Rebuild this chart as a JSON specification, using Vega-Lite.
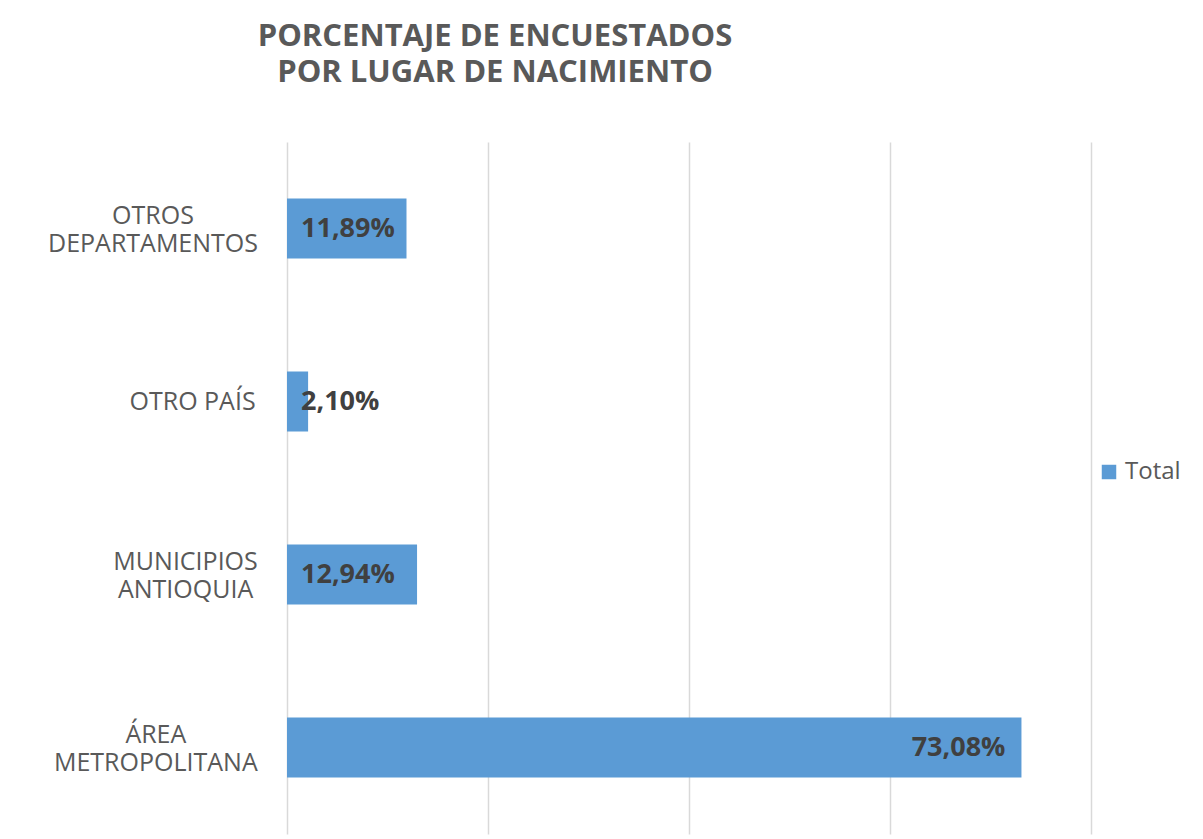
{
  "$schema": "https://vega.github.io/schema/vega-lite/v6.json",
  "autosize": "none",
  "width": 804,
  "height": 692,
  "padding": {"left": 287, "top": 142, "right": 112, "bottom": 5},
  "background": "white",
  "config": {
    "locale": {"number": {"decimal": ",", "thousands": ".", "grouping": [3], "currency": ["", " €"]}},
    "view": {"stroke": null},
    "font": "Open Sans"
  },
  "title": {
    "text": ["PORCENTAJE DE ENCUESTADOS", "POR LUGAR DE NACIMIENTO"],
    "anchor": "start",
    "frame": "group",
    "align": "center",
    "dx": 208,
    "offset": 53,
    "fontSize": 31,
    "fontWeight": "bold",
    "color": "#595959",
    "lineHeight": 36,
    "font": "Open Sans"
  },
  "data": {
    "values": [
      {"lugar": "OTROS|DEPARTAMENTOS", "pct": 0.1189, "serie": "Total"},
      {"lugar": "OTRO PAÍS", "pct": 0.021, "serie": "Total"},
      {"lugar": "MUNICIPIOS|ANTIOQUIA", "pct": 0.1294, "serie": "Total"},
      {"lugar": "ÁREA|METROPOLITANA", "pct": 0.7308, "serie": "Total"}
    ]
  },
  "encoding": {
    "y": {
      "field": "lugar",
      "type": "nominal",
      "sort": null,
      "title": null,
      "scale": {"paddingInner": 0.653, "paddingOuter": 0.3265},
      "axis": {
        "domain": false,
        "ticks": false,
        "labels": false
      }
    },
    "x": {
      "field": "pct",
      "type": "quantitative",
      "scale": {"domain": [0, 0.8], "nice": false},
      "title": null,
      "axis": {
        "values": [0, 0.2, 0.4, 0.6, 0.8],
        "labels": false,
        "ticks": false,
        "domain": false,
        "grid": true,
        "gridColor": "#d9d9d9",
        "gridWidth": 1.5
      }
    }
  },
  "layer": [
    {
      "mark": {"type": "bar"},
      "encoding": {
        "color": {
          "field": "serie",
          "type": "nominal",
          "scale": {"range": ["#5B9BD5"]},
          "legend": {
            "title": null,
            "orient": "none",
            "legendX": 810,
            "legendY": 318,
            "symbolType": "square",
            "symbolSize": 210,
            "symbolStrokeWidth": 0,
            "labelFontSize": 24,
            "labelColor": "#595959",
            "labelFont": "Open Sans"
          }
        }
      }
    },
    {
      "mark": {
        "type": "text",
        "align": "center",
        "baseline": "middle",
        "fontSize": 25,
        "lineHeight": 28,
        "color": "#595959",
        "font": "Open Sans",
        "text": {"expr": "split(datum.lugar, '|')"},
        "dx": {"expr": "-30 - 0.5 * max(16.0 * length(split(datum.lugar, '|')[0]) - 5.7 * (length(split(datum.lugar, '|')[0]) - length(replace(split(datum.lugar, '|')[0], regexp('[IÍ]', 'g'), ''))) - 9.4 * (length(split(datum.lugar, '|')[0]) - length(replace(split(datum.lugar, '|')[0], regexp(' ', 'g'), ''))), 16.0 * length(peek(split(datum.lugar, '|'))) - 5.7 * (length(peek(split(datum.lugar, '|'))) - length(replace(peek(split(datum.lugar, '|')), regexp('[IÍ]', 'g'), ''))) - 9.4 * (length(peek(split(datum.lugar, '|'))) - length(replace(peek(split(datum.lugar, '|')), regexp(' ', 'g'), ''))))"},
        "dy": {"expr": "length(split(datum.lugar, '|')) > 1 ? -13 : 0"}
      },
      "encoding": {
        "x": {"datum": 0}
      }
    },
    {
      "transform": [{"filter": "datum.pct < 0.5"}],
      "mark": {"type": "text", "align": "left", "baseline": "middle", "dx": 14, "fontSize": 27, "fontWeight": "bold", "color": "#404040", "font": "Open Sans"},
      "encoding": {
        "x": {"datum": 0},
        "text": {"field": "pct", "type": "quantitative", "format": ".2%"}
      }
    },
    {
      "transform": [{"filter": "datum.pct >= 0.5"}],
      "mark": {"type": "text", "align": "right", "baseline": "middle", "dx": -16, "fontSize": 27, "fontWeight": "bold", "color": "#404040", "font": "Open Sans"},
      "encoding": {
        "text": {"field": "pct", "type": "quantitative", "format": ".2%"}
      }
    }
  ]
}
